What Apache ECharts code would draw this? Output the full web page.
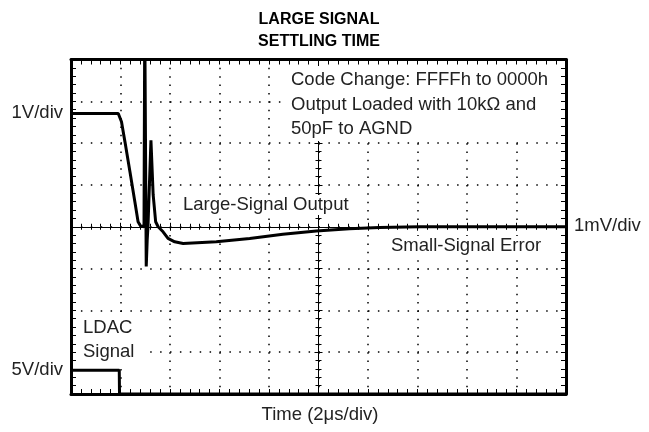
<!DOCTYPE html>
<html>
<head>
<meta charset="utf-8">
<script src="https://cdn.jsdelivr.net/npm/echarts@6/dist/echarts.min.js"></script>
<style>
html,body{margin:0;padding:0;background:#fff;}
#chart{width:649px;height:432px;}
</style>
</head>
<body>
<div id="chart"></div>
<script>
// Time axis: 2 µs per division, 10 divisions
const timeTicksUs = [0, 2, 4, 6, 8, 10, 12, 14, 16, 18, 20];
// Vertical axis in screen divisions (-4 .. 4)
const divTicks = [-4, -3, -2, -1, 0, 1, 2, 3, 4];

// Large-signal output (1V/div) merging into small-signal error (1mV/div), in divisions
const outputTimeUs = [0, 1.91, 2.04, 2.18, 2.38, 2.58, 2.71, 2.81, 2.95, 2.98, 3.0, 3.04, 3.08, 3.11, 3.16, 3.23, 3.32, 3.42, 3.52, 3.72, 3.92, 4.19, 4.53, 5.87, 7.22, 8.56, 9.91, 11.25, 12.46, 14.07, 20];
const outputDiv =    [2.71, 2.71, 2.51, 2.03, 1.32, 0.60, 0.12, 0.02, 0.0, 5.0, 5.0, -0.95, -0.3, 0.0, 0.04, 2.07, 0.76, 0.12, 0.0, -0.12, -0.28, -0.36, -0.40, -0.36, -0.28, -0.18, -0.10, -0.05, -0.02, 0.0, 0.0];

// LDAC signal (5V/div), in divisions
const ldacTimeUs = [0, 1.95, 1.96, 20];
const ldacDiv =    [-3.43, -3.43, -4.0, -4.0];

const textLabels = {
  title: 'LARGE SIGNAL\nSETTLING TIME',
  xName: 'Time (2\u03bcs/div)',
  scaleTop: '1V/div',
  scaleMid: '1mV/div',
  scaleBottom: '5V/div',
  note: 'Code Change: FFFFh to 0000h\nOutput Loaded with 10k\u03a9 and\n50pF to AGND',
  large: 'Large-Signal Output',
  small: 'Small-Signal Error',
  ldac: 'LDAC\nSignal'
};

const G = {left: 71, right: 83, top: 59.5, bottom: 38};
const plotW = 649 - G.left - G.right;
const plotH = 432 - G.top - G.bottom;
const FONT = '"Liberation Sans", Arial, Helvetica, sans-serif';

function borderX(pos, split) {
  return {
    type: 'value', min: timeTicksUs[0], max: timeTicksUs[timeTicksUs.length - 1], interval: 2,
    position: pos, gridIndex: 0,
    axisLine: {show: true, onZero: false, lineStyle: {color: '#000', width: 3}},
    axisTick: {show: true, inside: true, length: 5, lineStyle: {color: '#000', width: 1}},
    minorTick: {show: true, splitNumber: 5, length: 5, lineStyle: {color: '#000', width: 1}},
    axisLabel: {show: false},
    splitLine: {show: split, lineStyle: {color: '#000', width: 1.5, type: [1.5, plotH / 40 - 1.5]}},
    minorSplitLine: {show: false}
  };
}
function centerX(inside, showLine) {
  return {
    type: 'value', min: 0, max: 20, interval: 2, position: 'bottom', offset: -plotH / 2, gridIndex: 0,
    axisLine: {show: showLine, onZero: false, lineStyle: {color: '#000', width: 1}},
    axisTick: {show: true, inside: inside, length: 4, lineStyle: {color: '#000', width: 1}},
    minorTick: {show: true, splitNumber: 5, length: 3, lineStyle: {color: '#000', width: 1}},
    axisLabel: {show: false}, splitLine: {show: false}
  };
}
function borderY(pos, split) {
  return {
    type: 'value', min: divTicks[0], max: divTicks[divTicks.length - 1], interval: 1,
    position: pos, gridIndex: 0,
    axisLine: {show: true, onZero: false, lineStyle: {color: '#000', width: 3}},
    axisTick: {show: true, inside: true, length: 5, lineStyle: {color: '#000', width: 1}},
    minorTick: {show: true, splitNumber: 5, length: 5, lineStyle: {color: '#000', width: 1}},
    axisLabel: {show: false},
    splitLine: {show: split, lineStyle: {color: '#000', width: 1.5, type: [1.5, plotW / 50 - 1.5]}},
    minorSplitLine: {show: false}
  };
}
function centerY(inside, showLine) {
  return {
    type: 'value', min: -4, max: 4, interval: 1, position: 'left', offset: -plotW / 2, gridIndex: 0,
    axisLine: {show: showLine, onZero: false, lineStyle: {color: '#000', width: 1}},
    axisTick: {show: true, inside: inside, length: 4, lineStyle: {color: '#000', width: 1}},
    minorTick: {show: true, splitNumber: 5, length: 3, lineStyle: {color: '#000', width: 1}},
    axisLabel: {show: false}, splitLine: {show: false}
  };
}

const chart = echarts.init(document.getElementById('chart'), null, {renderer: 'canvas'});

function txt(text, x, y, align, opts) {
  return Object.assign({
    type: 'text', x: x, y: y, z: 100,
    style: Object.assign({
      text: text, fill: '#222', font: '18.5px ' + FONT,
      textAlign: align, textVerticalAlign: 'middle'
    }, (opts && opts.style) || {})
  }, (opts && opts.el) || {});
}
function box(x, y, w, h) {
  return {type: 'rect', z: 99, shape: {x: x, y: y, width: w, height: h}, style: {fill: '#fff'}};
}

chart.setOption({
  animation: false,
  backgroundColor: '#fff',
  grid: {left: G.left, right: G.right, top: G.top, bottom: G.bottom, containLabel: false},
  xAxis: [borderX('bottom', true), borderX('top', false), centerX(true, true), centerX(false, false)],
  yAxis: [borderY('left', true), borderY('right', false), centerY(true, true), centerY(false, false)],
  series: [
    {
      type: 'line', xAxisIndex: 0, yAxisIndex: 0, showSymbol: false, clip: true, z: 10,
      lineStyle: {color: '#000', width: 3}, silent: true,
      data: outputTimeUs.map((t, i) => [t, outputDiv[i]])
    },
    {
      type: 'line', xAxisIndex: 0, yAxisIndex: 0, showSymbol: false, clip: true, z: 10,
      lineStyle: {color: '#000', width: 3}, silent: true,
      data: ldacTimeUs.map((t, i) => [t, ldacDiv[i]])
    }
  ],
  graphic: [
    txt(textLabels.title, 319, 31, 'center', {style: {font: 'bold 16px ' + FONT, lineHeight: 22, fill: '#000'}}),
    txt(textLabels.xName, 320, 415, 'center'),
    txt(textLabels.scaleTop, 63, 113, 'right'),
    txt(textLabels.scaleBottom, 63, 370, 'right'),
    txt(textLabels.scaleMid, 574, 226, 'left'),
    box(287, 66, 272, 75),
    txt(textLabels.note, 291, 104.5, 'left', {style: {lineHeight: 24.5}}),
    box(180, 195, 170, 20),
    txt(textLabels.large, 183, 205, 'left'),
    box(388, 236, 160, 20),
    txt(textLabels.small, 391, 246, 'left'),
    box(79, 316, 64, 47),
    txt(textLabels.ldac, 83, 340, 'left', {style: {lineHeight: 24}})
  ]
});
</script>
</body>
</html>
